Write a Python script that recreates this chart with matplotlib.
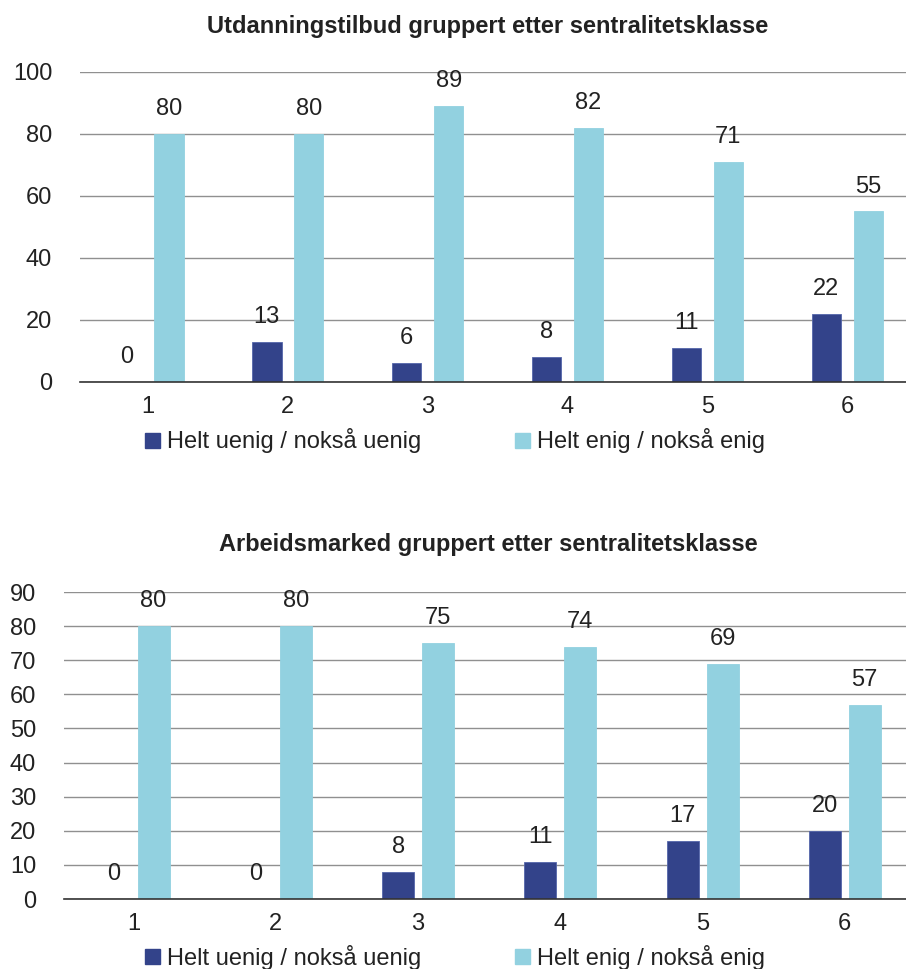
import matplotlib
matplotlib.use("Agg")
import matplotlib.pyplot as plt
import numpy as np
from matplotlib.patches import Patch

plt.rcParams["font.family"] = ["Liberation Sans", "DejaVu Sans"]

categories = ["1", "2", "3", "4", "5", "6"]
series_names = ["Helt uenig / nokså uenig", "Helt enig / nokså enig"]

edu_uenig = [0, 13, 6, 8, 11, 22]
edu_enig = [80, 80, 89, 82, 71, 55]

job_uenig = [0, 0, 8, 11, 17, 20]
job_enig = [80, 80, 75, 74, 69, 57]

titles = ["Utdanningstilbud gruppert etter sentralitetsklasse",
          "Arbeidsmarked gruppert etter sentralitetsklasse"]

DARK = "#33438A"
LIGHT = "#92D1E0"
TEXT = "#222222"
FS = 17

fig = plt.figure(figsize=(9.06, 9.69), dpi=100)


def draw_panel(ax, uenig, enig, ymax, ystep, xlim, w, off):
    x = np.arange(len(categories))
    b1 = ax.bar(x - off, uenig, w, color=DARK, edgecolor="#5566AA", linewidth=0.6, zorder=3)
    b2 = ax.bar(x + off, enig, w, color=LIGHT, edgecolor=LIGHT, linewidth=0.6, zorder=3)
    for bars in (b1, b2):
        for rect in bars:
            h = rect.get_height()
            ax.annotate(f"{h:.0f}", (rect.get_x() + rect.get_width() / 2, h),
                        xytext=(0, 10), textcoords="offset points",
                        ha="center", va="bottom", fontsize=FS, color=TEXT)
    ax.set_ylim(0, ymax)
    ax.set_xlim(*xlim)
    ax.set_yticks(np.arange(0, ymax + 1, ystep))
    ax.set_xticks(x)
    ax.set_xticklabels(categories)
    ax.tick_params(axis="both", length=0, labelsize=FS, colors=TEXT)
    ax.tick_params(axis="y", pad=20)
    ax.tick_params(axis="x", pad=10)
    ax.yaxis.grid(True, color="#909090", linewidth=1, zorder=0)
    ax.set_axisbelow(True)
    for s in ["top", "right", "left"]:
        ax.spines[s].set_visible(False)
    ax.spines["bottom"].set_color("#333333")
    ax.spines["bottom"].set_linewidth(1.2)
    ax.spines["bottom"].set_zorder(4)


ax1 = fig.add_axes([0.0883, 0.6058, 0.9117, 0.3199])
draw_panel(ax1, edu_uenig, edu_enig, 100, 20, (-0.486, 5.42), 0.21, 0.15)

ax2 = fig.add_axes([0.0706, 0.0722, 0.9294, 0.3168])
draw_panel(ax2, job_uenig, job_enig, 90, 10, (-0.49, 5.43), 0.225, 0.14)

fig.text(488 / 906, 1 - 27 / 969, titles[0], ha="center", va="center",
         fontsize=17, fontweight="bold", color=TEXT)
fig.text(488 / 906, 1 - 544 / 969, titles[1], ha="center", va="center",
         fontsize=17, fontweight="bold", color=TEXT)

handles = [Patch(facecolor=DARK, edgecolor=DARK), Patch(facecolor=LIGHT, edgecolor=LIGHT)]
for ypix in (441, 957):
    fig.legend(handles, series_names, loc="center", bbox_to_anchor=(455 / 906, 1 - ypix / 969),
               ncol=2, frameon=False, fontsize=FS, handlelength=0.62, handleheight=0.62,
               handletextpad=0.28, columnspacing=4.0, labelcolor=TEXT,
               borderpad=0, borderaxespad=0)

fig.savefig("out.png", dpi=100)
